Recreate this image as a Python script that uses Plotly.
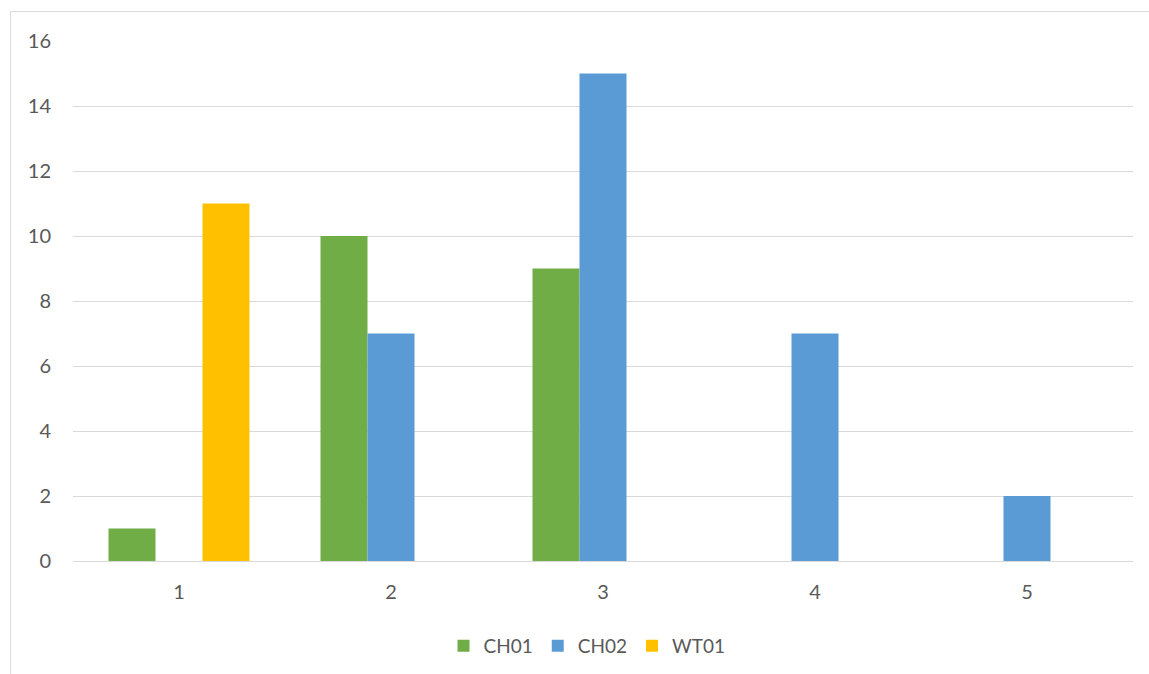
import plotly.graph_objects as go

categories = ["1", "2", "3", "4", "5"]
ch01 = [1, 10, 9, None, None]
ch02 = [None, 7, 15, 7, 2]
wt01 = [11, None, None, None, None]

series = [
    ("CH01", ch01, "#70AD47"),
    ("CH02", ch02, "#5B9BD5"),
    ("WT01", wt01, "#FFC000"),
]

W, H = 1149, 674
L, R, T, B = 73, 16, 41, 113
pw, ph = W - L - R, H - T - B

fig = go.Figure()
for name, vals, color in series:
    fig.add_trace(go.Bar(x=categories, y=vals, name=name,
                         marker=dict(color=color, line=dict(width=0))))

grid = "#D9D9D9"
font_color = "#595959"

# chart-area frame (px -> paper coordinates)
def px_x(px):
    return (px - L) / pw

def px_y(py):
    return (H - B - py) / ph

fig.add_shape(type="rect", xref="paper", yref="paper",
              x0=px_x(10.5), x1=px_x(W + 20), y0=px_y(H + 20), y1=px_y(11.5),
              line=dict(color=grid, width=1), fillcolor="rgba(0,0,0,0)", layer="below")

fig.update_layout(
    width=W, height=H,
    margin=dict(l=L, r=R, t=T, b=B, autoexpand=False),
    paper_bgcolor="white", plot_bgcolor="white",
    barmode="group", bargap=0.335, bargroupgap=0,
    font=dict(family="Lato", size=20, color=font_color),
    showlegend=True,
    legend=dict(orientation="h", x=px_x(587), xanchor="center", y=px_y(646), yanchor="middle",
                font=dict(size=19, color=font_color), traceorder="normal",
                itemwidth=30),
    xaxis=dict(showgrid=False, showline=True, linecolor=grid, linewidth=1,
               ticks="", ticklabelstandoff=13, tickfont=dict(size=20)),
    yaxis=dict(range=[0, 16], dtick=2, showgrid=True, gridcolor=grid, gridwidth=1,
               zeroline=False, showline=False, ticks="", ticklabelstandoff=21,
               tickfont=dict(size=20)),
)

fig.write_html("out.html")
